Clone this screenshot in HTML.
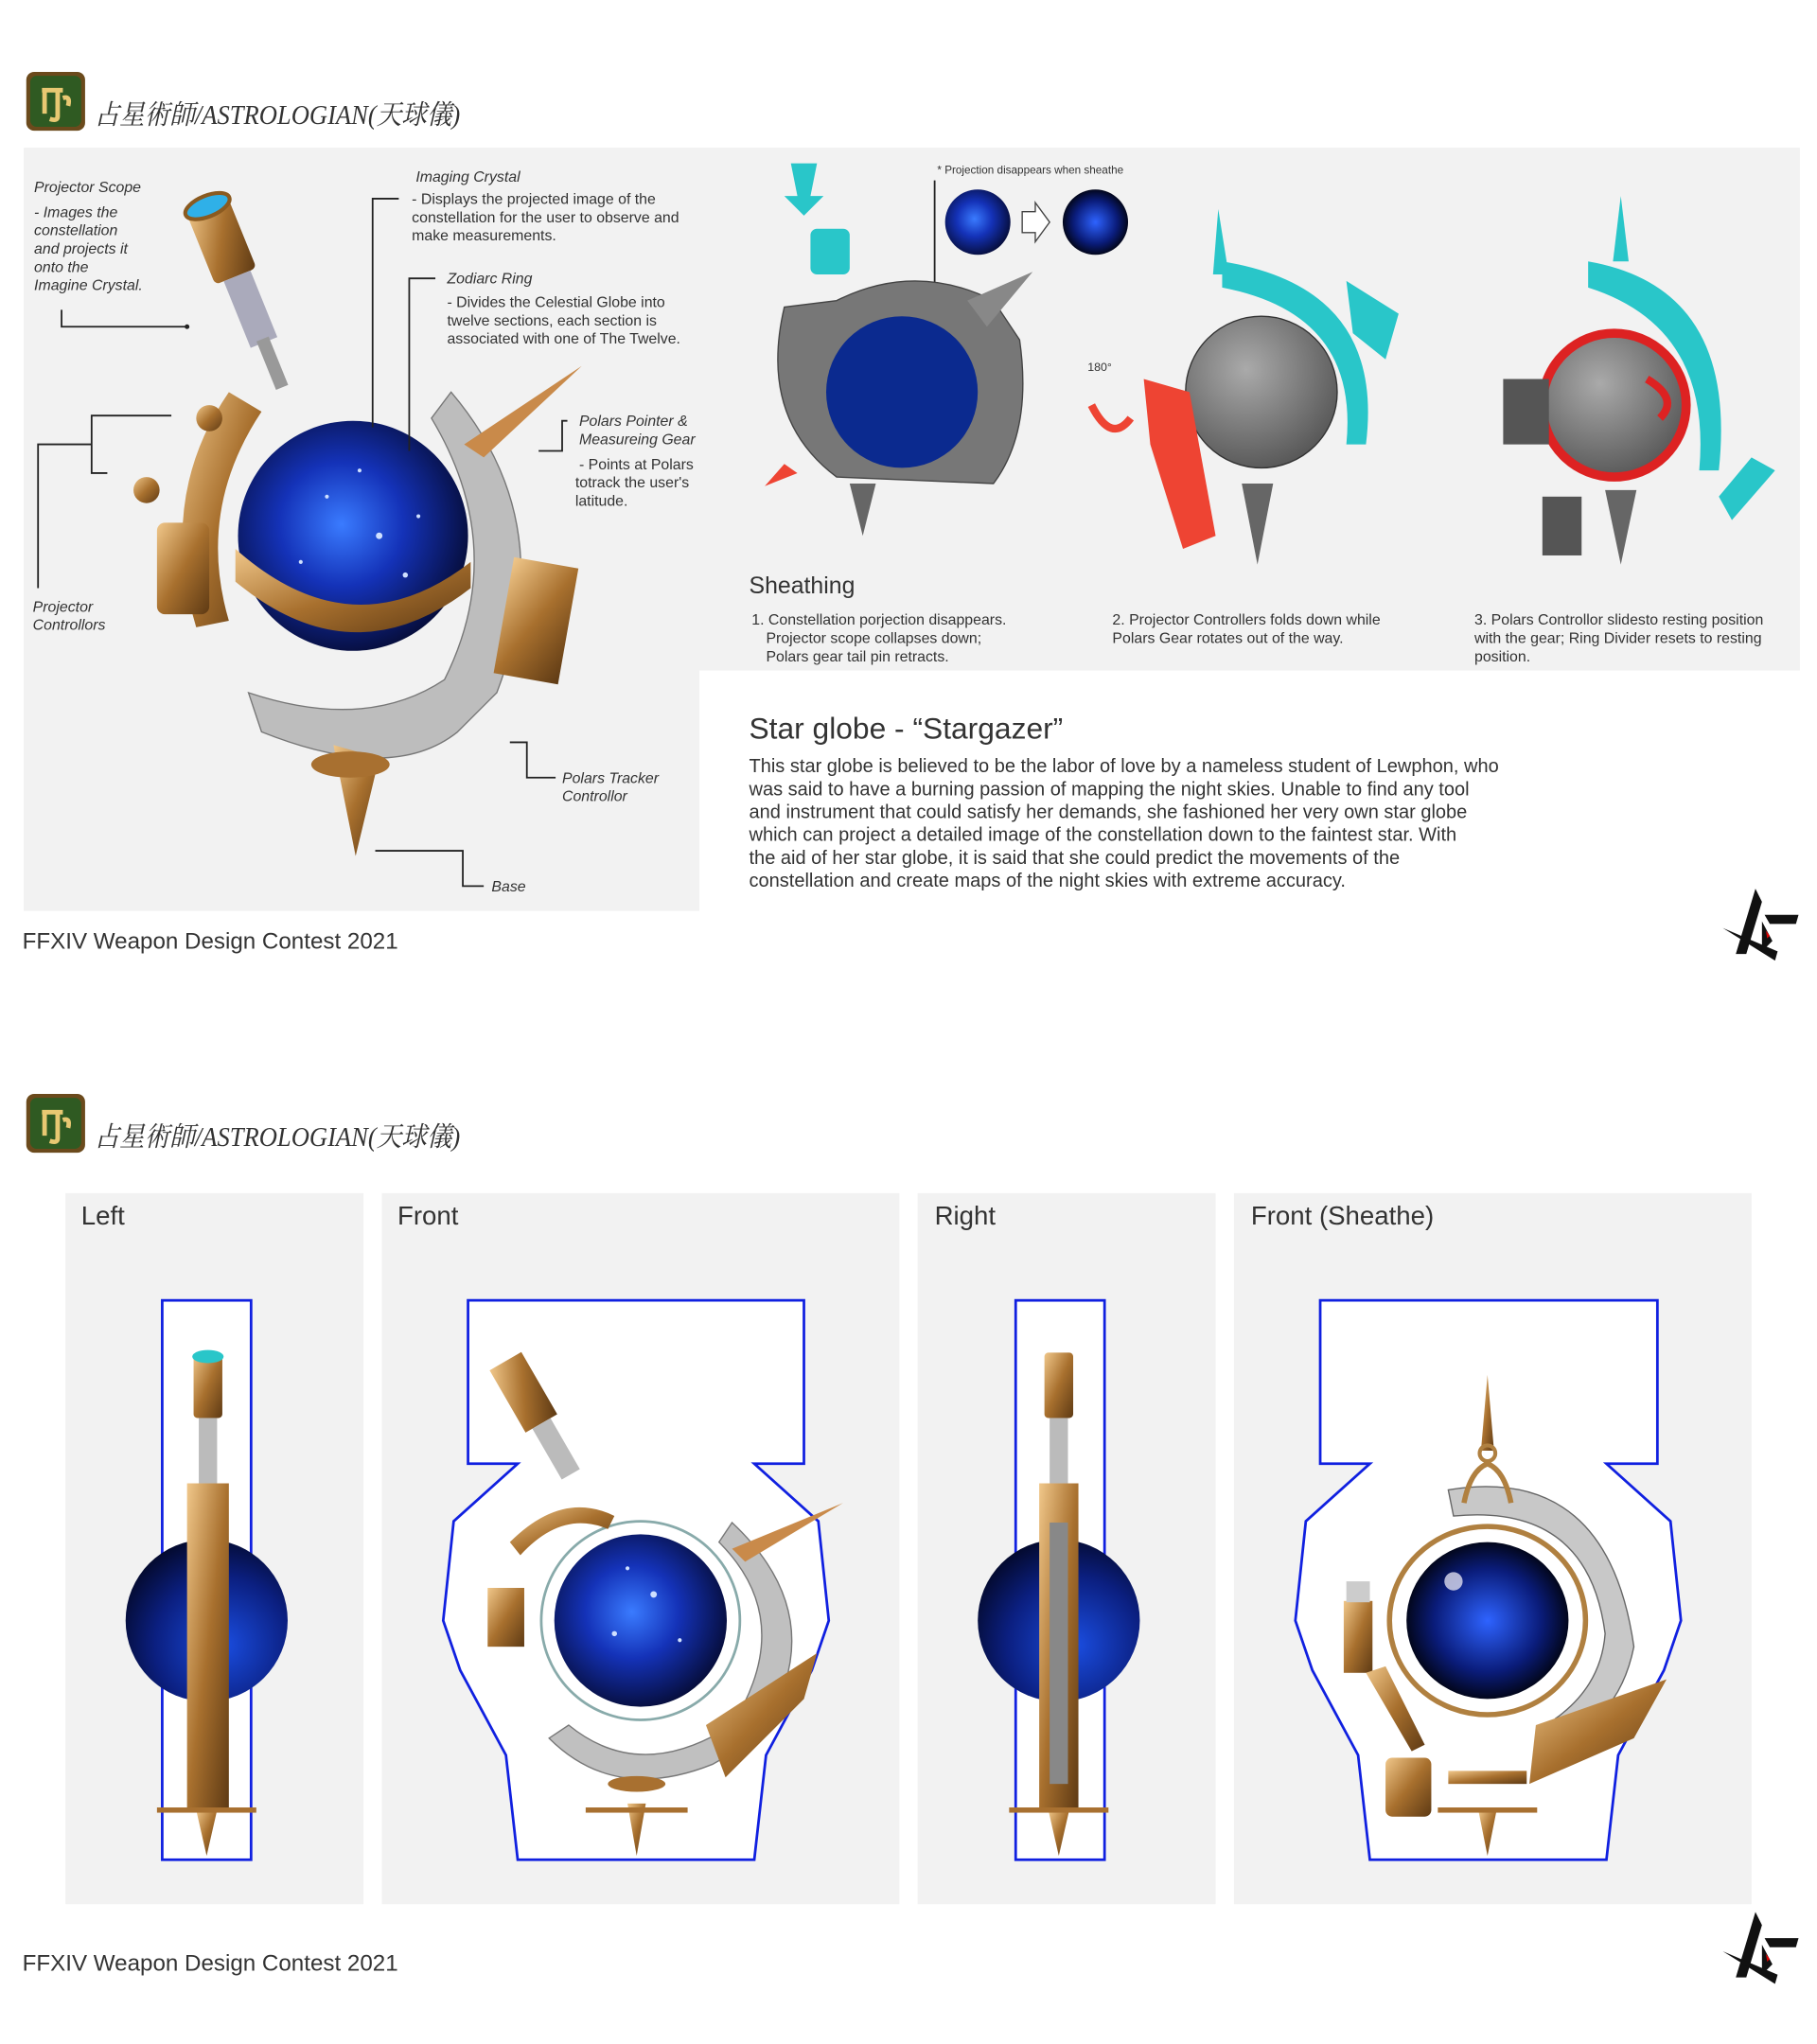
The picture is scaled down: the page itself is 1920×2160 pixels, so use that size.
<!DOCTYPE html>
<html><head><meta charset="utf-8"><style>
html,body{margin:0;padding:0;background:#fff;}
svg{display:block;}
text{font-family:"Liberation Sans","Noto Sans CJK JP",sans-serif;fill:#333;}
.it{font-style:italic;font-size:11.5px;}
.sm{font-size:11.5px;}
.ln{stroke:#222;stroke-width:1.3;fill:none;}
</style></head><body>
<svg width="1920" height="2160" viewBox="0 0 1390 1564" xmlns="http://www.w3.org/2000/svg">
<defs>
<radialGradient id="gb" cx="0.45" cy="0.45" r="0.6"><stop offset="0" stop-color="#3a7bff"/><stop offset="0.45" stop-color="#1432b8"/><stop offset="1" stop-color="#050a30"/></radialGradient>
<radialGradient id="gd" cx="0.6" cy="0.65" r="0.7"><stop offset="0" stop-color="#1a4de0"/><stop offset="0.6" stop-color="#0b1f80"/><stop offset="1" stop-color="#030828"/></radialGradient>
<radialGradient id="gs" cx="0.5" cy="0.5" r="0.55"><stop offset="0" stop-color="#2e63ff"/><stop offset="0.6" stop-color="#0a1c7a"/><stop offset="1" stop-color="#000"/></radialGradient>
<radialGradient id="gg" cx="0.4" cy="0.35" r="0.7"><stop offset="0" stop-color="#aaa"/><stop offset="1" stop-color="#555"/></radialGradient>
<linearGradient id="gold" x1="0" y1="0" x2="1" y2="1"><stop offset="0" stop-color="#f0c78a"/><stop offset="0.5" stop-color="#a8702e"/><stop offset="1" stop-color="#5e3a14"/></linearGradient>
<g id="icon"><rect x="0" y="0" width="45" height="45" rx="6" fill="#6b4a1c"/><rect x="3" y="3" width="39" height="39" rx="5" fill="#2f5a22"/><path d="M12 14 H28 M14 14 V32 M24 14 V34 Q24 38 18 36 M28 20 Q34 18 32 26" stroke="#e8c872" stroke-width="3.5" fill="none"/></g>
<g id="logo"><path d="M25 0 L10 50 L18 50 L30 10 Z" fill="#111"/><path d="M0 30 L40 55 L42 48 Z" fill="#111"/><path d="M32 20 L58 20 L56 27 L36 27 Z" fill="#111"/><path d="M30 25 L38 40 L30 48 Z" fill="#111"/><path d="M33 32 L36 36 L34 38 Z" fill="#d00"/></g>
</defs>

<!-- title 1 -->
<use href="#icon" x="20" y="55"/>
<text x="72" y="95" font-family="Liberation Serif,Noto Serif CJK SC,serif" font-style="italic" font-size="21" textLength="280" lengthAdjust="spacingAndGlyphs" style="font-family:'Liberation Serif','Noto Serif CJK SC',serif" fill="#222">占星術師/ASTROLOGIAN(天球儀)</text>

<!-- gray panels -->
<rect x="18" y="113" width="1359" height="400" fill="#f2f2f2"/>
<rect x="18" y="513" width="517" height="184" fill="#f2f2f2"/>

<!-- main illustration -->
<path d="M345 300 Q430 400 380 530 L350 560 Q300 600 200 560 L190 530 Q280 560 340 520 Q390 420 330 320 Z" fill="#bdbdbd" stroke="#777"/>
<path d="M175 300 Q120 380 150 480 L175 475 Q150 390 200 315 Z" fill="url(#gold)"/>
<g transform="rotate(-22 185 215)"><rect x="165" y="150" width="34" height="60" rx="4" fill="url(#gold)"/><rect x="172" y="210" width="22" height="55" fill="#aab"/><rect x="178" y="262" width="10" height="40" fill="#999"/><ellipse cx="182" cy="152" rx="18" ry="8" fill="#2fb0e8" stroke="#8a5a20" stroke-width="3"/></g>
<circle cx="270" cy="410" r="88" fill="url(#gb)"/>
<g fill="#cfe0ff"><circle cx="290" cy="410" r="2.5"/><circle cx="250" cy="380" r="1.5"/><circle cx="310" cy="440" r="2"/><circle cx="230" cy="430" r="1.5"/><circle cx="275" cy="360" r="1.5"/><circle cx="320" cy="395" r="1.5"/></g>
<path d="M180 420 Q270 500 360 430 L360 450 Q270 520 180 445 Z" fill="url(#gold)"/>
<rect x="120" y="400" width="40" height="70" rx="6" fill="url(#gold)"/>
<rect x="385" y="430" width="50" height="90" fill="url(#gold)" transform="rotate(10 410 475)"/>
<path d="M355 340 L445 280 L370 350 Z" fill="#c98a4a"/>
<path d="M255 570 L290 580 L272 655 Z" fill="url(#gold)"/>
<ellipse cx="268" cy="585" rx="30" ry="10" fill="#a87030"/>
<circle cx="112" cy="375" r="10" fill="url(#gold)"/><circle cx="160" cy="320" r="10" fill="url(#gold)"/>

<!-- callouts -->
<text class="it" x="26" y="147">Projector Scope</text>
<text class="it" x="26" y="166">- Images the</text><text class="it" x="26" y="180">constellation</text><text class="it" x="26" y="194">and projects it</text><text class="it" x="26" y="208">onto the</text><text class="it" x="26" y="222">Imagine Crystal.</text>
<path class="ln" d="M47 237 V250 H143"/><circle cx="143" cy="250" r="1.8" fill="#222"/>
<text class="it" x="318" y="139">Imaging Crystal</text>
<text class="sm" x="315" y="156">- Displays the projected image of the</text><text class="sm" x="315" y="170">constellation for the user to observe and</text><text class="sm" x="315" y="184">make measurements.</text>
<path class="ln" d="M305 152 H285 V327"/>
<text class="it" x="342" y="217">Zodiarc Ring</text>
<text class="sm" x="342" y="235">- Divides the Celestial Globe into</text><text class="sm" x="342" y="249">twelve sections, each section is</text><text class="sm" x="342" y="263">associated with one of The Twelve.</text>
<path class="ln" d="M333 213 H313 V345"/>
<text class="it" x="443" y="326">Polars Pointer &amp;</text><text class="it" x="443" y="340">Measureing Gear</text>
<text class="sm" x="443" y="359">- Points at Polars</text><text class="sm" x="440" y="373">totrack the user's</text><text class="sm" x="440" y="387">latitude.</text>
<path class="ln" d="M434 322 H430 V345 H412"/>
<path class="ln" d="M131 318 H70 V362 H82 M70 340 H29 V450"/>
<text class="it" x="25" y="468">Projector</text><text class="it" x="25" y="482">Controllors</text>
<path class="ln" d="M390 568 H403 V595 H425"/>
<text class="it" x="430" y="599">Polars Tracker</text><text class="it" x="430" y="613">Controllor</text>
<path class="ln" d="M287 651 H354 V678 H370"/>
<text class="it" x="376" y="682">Base</text>

<!-- sheathing illustrations -->
<text x="717" y="133" font-size="8.5">* Projection disappears when sheathe</text>
<path class="ln" d="M715 138 V245" stroke-width="0.8"/>
<circle cx="748" cy="170" r="25" fill="url(#gb)"/><circle cx="838" cy="170" r="25" fill="url(#gs)"/>
<path d="M782 162 H792 V155 L803 170 L792 185 V178 H782 Z" fill="#fff" stroke="#444"/>
<path d="M600 235 Q580 320 640 365 L760 370 Q790 330 780 260 L760 230 Q700 200 640 230 Z" fill="#777" stroke="#444"/>
<circle cx="690" cy="300" r="58" fill="#0b2a8f"/>
<path d="M740 230 L790 208 L755 250 Z" fill="#888"/>
<path d="M605 125 H625 L620 150 L630 150 L615 165 L600 150 L610 150 Z" fill="#29c6c9"/>
<rect x="620" y="175" width="30" height="35" rx="5" fill="#29c6c9"/>
<path d="M585 372 L600 355 L610 362 Z" fill="#e43"/>
<path d="M650 370 L660 410 L670 370 Z" fill="#666"/>

<circle cx="965" cy="300" r="58" fill="url(#gg)" stroke="#333"/>
<path d="M935 200 Q1060 220 1045 340 L1030 340 Q1040 240 935 220 Z" fill="#29c6c9"/>
<path d="M1030 215 L1070 240 L1060 275 L1035 255 Z" fill="#29c6c9"/>
<path d="M932 160 L940 210 L928 210 Z" fill="#29c6c9"/>
<path d="M875 290 L910 300 L930 410 L905 420 L880 340 Z" fill="#e43"/>
<path d="M835 310 Q850 340 865 320" stroke="#e43" stroke-width="6" fill="none"/>
<text x="832" y="284" font-size="9">180°</text>
<path d="M950 370 L962 432 L974 370 Z" fill="#666"/>

<circle cx="1235" cy="310" r="55" fill="url(#gg)" stroke="#d22" stroke-width="7"/>
<path d="M1260 290 Q1285 305 1270 320" stroke="#d22" stroke-width="6" fill="none"/>
<path d="M1215 200 Q1330 220 1315 360 L1300 360 Q1310 250 1215 220 Z" fill="#29c6c9"/>
<path d="M1240 150 L1246 200 L1234 200 Z" fill="#29c6c9"/>
<path d="M1340 350 L1358 360 L1325 398 L1315 380 Z" fill="#29c6c9"/>
<path d="M1150 290 H1185 V340 H1150 Z" fill="#555"/>
<rect x="1180" y="380" width="30" height="45" fill="#555"/>
<path d="M1228 375 L1240 432 L1252 375 Z" fill="#666"/>

<text x="573" y="454" font-size="18">Sheathing</text>
<text class="sm" x="575" y="478">1. Constellation porjection disappears.</text><text class="sm" x="586" y="492">Projector scope collapses down;</text><text class="sm" x="586" y="506">Polars gear tail pin retracts.</text>
<text class="sm" x="851" y="478">2. Projector Controllers folds down while</text><text class="sm" x="851" y="492">Polars Gear rotates out of the way.</text>
<text class="sm" x="1128" y="478">3. Polars Controllor slidesto resting position</text><text class="sm" x="1128" y="492">with the gear; Ring Divider resets to resting</text><text class="sm" x="1128" y="506">position.</text>

<text x="573" y="565" font-size="23">Star globe - “Stargazer”</text>
<g font-size="14.5">
<text x="573" y="591">This star globe is believed to be the labor of love by a nameless student of Lewphon, who</text>
<text x="573" y="608.5">was said to have a burning passion of mapping the night skies.  Unable to find any tool</text>
<text x="573" y="626">and instrument that could satisfy her demands, she fashioned her very own star globe</text>
<text x="573" y="643.5">which can project a detailed image of the constellation down to the faintest star.  With</text>
<text x="573" y="661">the aid of her star globe, it is said that she could predict the movements of the</text>
<text x="573" y="678.5">constellation and create maps of the night skies with extreme accuracy.</text>
</g>
<use href="#logo" x="1318" y="680"/>
<text x="17" y="726" font-size="17.5" fill="#222">FFXIV Weapon Design Contest 2021</text>

<!-- title 2 -->
<use href="#icon" x="20" y="837"/>
<text x="72" y="877" font-style="italic" font-size="21" textLength="280" lengthAdjust="spacingAndGlyphs" style="font-family:'Liberation Serif','Noto Serif CJK SC',serif" fill="#222">占星術師/ASTROLOGIAN(天球儀)</text>

<!-- bottom panels -->
<rect x="50" y="913" width="228" height="544" fill="#f2f2f2"/>
<rect x="292" y="913" width="396" height="544" fill="#f2f2f2"/>
<rect x="702" y="913" width="228" height="544" fill="#f2f2f2"/>
<rect x="944" y="913" width="396" height="544" fill="#f2f2f2"/>
<g font-size="20" fill="#222"><text x="62" y="937">Left</text><text x="304" y="937">Front</text><text x="715" y="937">Right</text><text x="957" y="937">Front (Sheathe)</text></g>

<rect x="124" y="995" width="68" height="428" fill="#fff" stroke="#1020e0" stroke-width="2"/>
<rect x="777" y="995" width="68" height="428" fill="#fff" stroke="#1020e0" stroke-width="2"/>
<path d="M358 995 H615 V1120 H577 L626 1164 L634 1240 L621 1278 L586 1343 L577 1423 H396 L387 1343 L352 1278 L339 1240 L347 1164 L396 1120 H358 Z" fill="#fff" stroke="#1020e0" stroke-width="2"/>
<path d="M1010 995 H1268 V1120 H1229 L1278 1164 L1286 1240 L1273 1278 L1238 1343 L1229 1423 H1048 L1039 1343 L1004 1278 L991 1240 L999 1164 L1048 1120 H1010 Z" fill="#fff" stroke="#1020e0" stroke-width="2"/>

<!-- left view -->
<circle cx="158" cy="1240" r="62" fill="url(#gd)"/>
<rect x="148" y="1035" width="22" height="50" rx="3" fill="url(#gold)"/><ellipse cx="159" cy="1038" rx="12" ry="5" fill="#29c6c9"/>
<rect x="152" y="1085" width="14" height="50" fill="#bbb"/>
<rect x="143" y="1135" width="32" height="250" fill="url(#gold)"/>
<path d="M150 1385 L158 1420 L166 1385 Z" fill="url(#gold)"/>
<rect x="120" y="1383" width="76" height="4" fill="#a87030"/>
<!-- right view -->
<circle cx="810" cy="1240" r="62" fill="url(#gd)"/>
<rect x="799" y="1035" width="22" height="50" rx="3" fill="url(#gold)"/>
<rect x="803" y="1085" width="14" height="50" fill="#bbb"/>
<rect x="795" y="1135" width="30" height="250" fill="url(#gold)"/>
<rect x="803" y="1165" width="14" height="200" fill="#888"/>
<path d="M802 1385 L810 1420 L818 1385 Z" fill="url(#gold)"/>
<rect x="772" y="1383" width="76" height="4" fill="#a87030"/>

<!-- front view -->
<path d="M560 1165 Q640 1240 580 1330 L545 1350 Q470 1380 420 1330 L435 1320 Q490 1365 560 1320 Q610 1240 550 1180 Z" fill="#c0c0c0" stroke="#777"/>
<circle cx="490" cy="1240" r="76" fill="#fff" stroke="#8aa" stroke-width="2"/>
<circle cx="490" cy="1240" r="66" fill="url(#gb)"/>
<g fill="#cfe0ff"><circle cx="500" cy="1220" r="2.5"/><circle cx="470" cy="1250" r="2"/><circle cx="520" cy="1255" r="1.5"/><circle cx="480" cy="1200" r="1.5"/></g>
<path d="M390 1180 Q430 1140 470 1160 L465 1170 Q430 1155 398 1190 Z" fill="url(#gold)"/>
<g transform="rotate(-30 410 1080)"><rect x="395" y="1035" width="28" height="55" fill="url(#gold)"/><rect x="401" y="1090" width="16" height="45" fill="#bbb"/></g>
<rect x="373" y="1215" width="28" height="45" fill="url(#gold)"/>
<path d="M540 1320 L625 1265 L615 1300 L555 1360 Z" fill="url(#gold)"/>
<path d="M560 1185 L645 1150 L570 1195 Z" fill="#c98a4a"/>
<path d="M480 1380 L487 1420 L494 1380 Z" fill="url(#gold)"/>
<rect x="448" y="1383" width="78" height="4" fill="#a87030"/>
<ellipse cx="487" cy="1365" rx="22" ry="6" fill="#a87030"/>

<!-- sheathe view -->
<path d="M1108 1140 Q1230 1120 1250 1260 Q1240 1310 1200 1330 L1190 1315 Q1225 1290 1228 1250 Q1215 1150 1112 1160 Z" fill="#c8c8c8" stroke="#666"/>
<ellipse cx="1138" cy="1240" rx="75" ry="72" fill="#fff" stroke="#b08040" stroke-width="4"/>
<ellipse cx="1138" cy="1240" rx="62" ry="60" fill="url(#gs)"/>
<circle cx="1112" cy="1210" r="7" fill="#dde" opacity="0.8"/>
<path d="M1138 1052 L1143 1110 L1133 1110 Z" fill="url(#gold)"/>
<circle cx="1138" cy="1112" r="6" fill="none" stroke="#b08040" stroke-width="3"/>
<path d="M1120 1150 Q1125 1125 1138 1120 Q1151 1125 1156 1150" stroke="#b08040" stroke-width="4" fill="none"/>
<rect x="1028" y="1225" width="22" height="55" fill="url(#gold)"/><rect x="1030" y="1210" width="18" height="16" fill="#ccc"/>
<path d="M1045 1280 L1080 1340 L1090 1335 L1060 1275 Z" fill="url(#gold)"/>
<path d="M1175 1320 L1275 1285 L1250 1330 L1170 1365 Z" fill="url(#gold)"/>
<rect x="1060" y="1345" width="35" height="45" rx="5" fill="url(#gold)"/>
<rect x="1108" y="1355" width="60" height="10" fill="url(#gold)"/>
<path d="M1131 1385 L1138 1420 L1145 1385 Z" fill="url(#gold)"/>
<rect x="1100" y="1383" width="76" height="4" fill="#a87030"/>

<use href="#logo" x="1318" y="1463"/>
<text x="17" y="1508" font-size="17.5" fill="#222">FFXIV Weapon Design Contest 2021</text>
</svg>
</body></html>
